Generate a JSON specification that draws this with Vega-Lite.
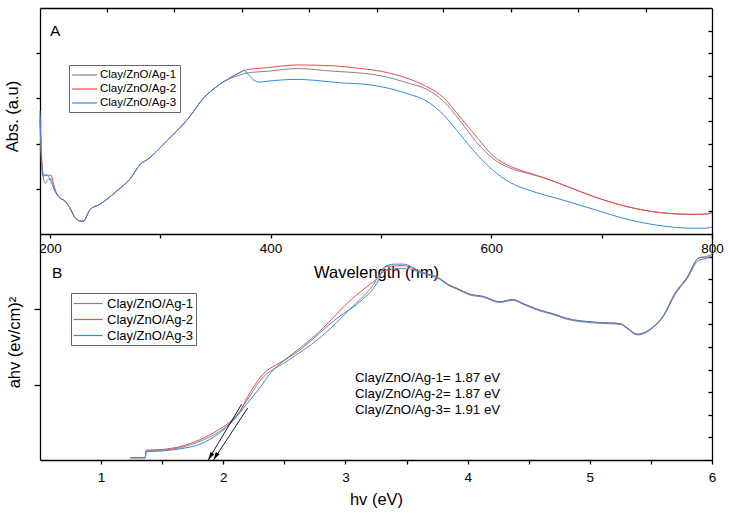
{
  "$schema": "https://vega.github.io/schema/vega-lite/v6.json",
  "padding": {"left": 4, "top": 7, "right": 5, "bottom": 3},
  "spacing": 0,
  "bounds": "flush",
  "config": {
    "font": "Liberation Sans",
    "view": {"stroke": null},
    "axis": {"grid": false, "domainColor": "#000", "domainWidth": 1.3, "tickColor": "#000", "tickWidth": 1.3, "labelColor": "#000", "titleColor": "#000", "labelFontSize": 13.5, "titleFontSize": 16.5, "titleFontWeight": "normal", "labelFont": "Liberation Sans", "titleFont": "Liberation Sans", "labelFlush": false, "labelOverlap": false}
  },
  "resolve": {"scale": {"x": "independent", "y": "independent", "color": "independent"}, "legend": {"color": "independent"}},
  "vconcat": [
    {
      "width": 672,
      "height": 226,
      "resolve": {"axis": {"x": "independent", "y": "independent"}},
      "layer": [
        {
          "data": {"values": [
            {"s":"Ag-1","wl":191,"abs":1.25},{"s":"Ag-1","wl":192.5,"abs":0.75},{"s":"Ag-1","wl":194,"abs":0.62},{"s":"Ag-1","wl":196,"abs":0.56},{"s":"Ag-1","wl":198,"abs":0.60},{"s":"Ag-1","wl":201,"abs":0.61},{"s":"Ag-1","wl":203,"abs":0.52},{"s":"Ag-1","wl":206,"abs":0.44},
            {"s":"Ag-1","wl":209,"abs":0.40},{"s":"Ag-1","wl":213.6,"abs":0.365},{"s":"Ag-1","wl":218,"abs":0.29},{"s":"Ag-1","wl":222.7,"abs":0.18},{"s":"Ag-1","wl":227,"abs":0.145},{"s":"Ag-1","wl":230,"abs":0.14},{"s":"Ag-1","wl":236.4,"abs":0.27},{"s":"Ag-1","wl":245.5,"abs":0.33},{"s":"Ag-1","wl":261,"abs":0.48},{"s":"Ag-1","wl":272.7,"abs":0.61},{"s":"Ag-1","wl":281.8,"abs":0.77},{"s":"Ag-1","wl":289,"abs":0.83},{"s":"Ag-1","wl":306,"abs":1.03},{"s":"Ag-1","wl":325.5,"abs":1.28},{"s":"Ag-1","wl":339,"abs":1.50},{"s":"Ag-1","wl":354.5,"abs":1.66},{"s":"Ag-1","wl":365,"abs":1.73},
            {"s":"Ag-1","wl":372.7,"abs":1.76},{"s":"Ag-1","wl":378,"abs":1.78},{"s":"Ag-1","wl":397,"abs":1.80},{"s":"Ag-1","wl":424.5,"abs":1.83},{"s":"Ag-1","wl":457,"abs":1.80},{"s":"Ag-1","wl":482,"abs":1.78},{"s":"Ag-1","wl":500,"abs":1.75},{"s":"Ag-1","wl":524.5,"abs":1.67},{"s":"Ag-1","wl":541.5,"abs":1.60},{"s":"Ag-1","wl":556.6,"abs":1.47},{"s":"Ag-1","wl":571.8,"abs":1.25},{"s":"Ag-1","wl":587,"abs":1.01},{"s":"Ag-1","wl":602,"abs":0.83},{"s":"Ag-1","wl":617,"abs":0.73},{"s":"Ag-1","wl":633,"abs":0.67},{"s":"Ag-1","wl":648,"abs":0.62},{"s":"Ag-1","wl":663.6,"abs":0.55},{"s":"Ag-1","wl":693.6,"abs":0.41},{"s":"Ag-1","wl":724,"abs":0.30},{"s":"Ag-1","wl":754.5,"abs":0.235},{"s":"Ag-1","wl":784.5,"abs":0.215},{"s":"Ag-1","wl":800,"abs":0.23},

            {"s":"Ag-2","wl":191,"abs":1.30},{"s":"Ag-2","wl":192.5,"abs":0.85},{"s":"Ag-2","wl":194,"abs":0.66},{"s":"Ag-2","wl":197,"abs":0.65},{"s":"Ag-2","wl":201,"abs":0.65},{"s":"Ag-2","wl":203,"abs":0.57},{"s":"Ag-2","wl":206,"abs":0.45},
            {"s":"Ag-2","wl":209,"abs":0.40},{"s":"Ag-2","wl":213.6,"abs":0.365},{"s":"Ag-2","wl":218,"abs":0.29},{"s":"Ag-2","wl":222.7,"abs":0.18},{"s":"Ag-2","wl":227,"abs":0.145},{"s":"Ag-2","wl":230,"abs":0.14},{"s":"Ag-2","wl":236.4,"abs":0.27},{"s":"Ag-2","wl":245.5,"abs":0.33},{"s":"Ag-2","wl":261,"abs":0.48},{"s":"Ag-2","wl":272.7,"abs":0.61},{"s":"Ag-2","wl":281.8,"abs":0.77},{"s":"Ag-2","wl":289,"abs":0.83},{"s":"Ag-2","wl":306,"abs":1.03},{"s":"Ag-2","wl":325.5,"abs":1.28},{"s":"Ag-2","wl":339,"abs":1.50},{"s":"Ag-2","wl":354.5,"abs":1.66},{"s":"Ag-2","wl":365,"abs":1.74},
            {"s":"Ag-2","wl":372.7,"abs":1.79},{"s":"Ag-2","wl":376,"abs":1.81},{"s":"Ag-2","wl":380,"abs":1.82},{"s":"Ag-2","wl":397,"abs":1.84},{"s":"Ag-2","wl":424.5,"abs":1.87},{"s":"Ag-2","wl":457,"abs":1.86},{"s":"Ag-2","wl":482,"abs":1.83},{"s":"Ag-2","wl":500,"abs":1.80},{"s":"Ag-2","wl":524.5,"abs":1.72},{"s":"Ag-2","wl":541.5,"abs":1.63},{"s":"Ag-2","wl":556.6,"abs":1.51},{"s":"Ag-2","wl":571.8,"abs":1.29},{"s":"Ag-2","wl":587,"abs":1.07},{"s":"Ag-2","wl":602,"abs":0.86},{"s":"Ag-2","wl":617,"abs":0.75},{"s":"Ag-2","wl":633,"abs":0.68},{"s":"Ag-2","wl":648,"abs":0.62},{"s":"Ag-2","wl":663.6,"abs":0.55},{"s":"Ag-2","wl":693.6,"abs":0.41},{"s":"Ag-2","wl":724,"abs":0.30},{"s":"Ag-2","wl":754.5,"abs":0.235},{"s":"Ag-2","wl":784.5,"abs":0.218},{"s":"Ag-2","wl":795,"abs":0.22},{"s":"Ag-2","wl":800,"abs":0.24},

            {"s":"Ag-3","wl":191,"abs":1.36},{"s":"Ag-3","wl":192.5,"abs":0.80},{"s":"Ag-3","wl":194,"abs":0.64},{"s":"Ag-3","wl":197,"abs":0.65},{"s":"Ag-3","wl":199,"abs":0.63},{"s":"Ag-3","wl":202,"abs":0.55},{"s":"Ag-3","wl":206,"abs":0.45},
            {"s":"Ag-3","wl":209,"abs":0.40},{"s":"Ag-3","wl":213.6,"abs":0.365},{"s":"Ag-3","wl":218,"abs":0.29},{"s":"Ag-3","wl":222.7,"abs":0.18},{"s":"Ag-3","wl":227,"abs":0.145},{"s":"Ag-3","wl":230,"abs":0.14},{"s":"Ag-3","wl":236.4,"abs":0.27},{"s":"Ag-3","wl":245.5,"abs":0.33},{"s":"Ag-3","wl":261,"abs":0.48},{"s":"Ag-3","wl":272.7,"abs":0.61},{"s":"Ag-3","wl":281.8,"abs":0.77},{"s":"Ag-3","wl":289,"abs":0.83},{"s":"Ag-3","wl":306,"abs":1.03},{"s":"Ag-3","wl":325.5,"abs":1.28},{"s":"Ag-3","wl":339,"abs":1.50},{"s":"Ag-3","wl":354.5,"abs":1.66},{"s":"Ag-3","wl":365,"abs":1.74},
            {"s":"Ag-3","wl":372.7,"abs":1.79},{"s":"Ag-3","wl":375.5,"abs":1.81},{"s":"Ag-3","wl":380,"abs":1.76},{"s":"Ag-3","wl":385,"abs":1.70},{"s":"Ag-3","wl":390,"abs":1.68},{"s":"Ag-3","wl":397,"abs":1.69},{"s":"Ag-3","wl":424.5,"abs":1.71},{"s":"Ag-3","wl":440,"abs":1.70},{"s":"Ag-3","wl":466,"abs":1.67},{"s":"Ag-3","wl":482,"abs":1.66},{"s":"Ag-3","wl":500,"abs":1.63},{"s":"Ag-3","wl":524.5,"abs":1.55},{"s":"Ag-3","wl":541.5,"abs":1.47},{"s":"Ag-3","wl":556.6,"abs":1.32},{"s":"Ag-3","wl":571.8,"abs":1.10},{"s":"Ag-3","wl":587,"abs":0.88},{"s":"Ag-3","wl":602,"abs":0.70},{"s":"Ag-3","wl":617,"abs":0.57},{"s":"Ag-3","wl":633,"abs":0.49},{"s":"Ag-3","wl":663.6,"abs":0.38},{"s":"Ag-3","wl":693.6,"abs":0.27},{"s":"Ag-3","wl":724,"abs":0.16},{"s":"Ag-3","wl":754.5,"abs":0.09},{"s":"Ag-3","wl":784.5,"abs":0.063},{"s":"Ag-3","wl":795,"abs":0.065},{"s":"Ag-3","wl":800,"abs":0.077}
          ]},
          "mark": {"type": "line", "strokeWidth": 1, "interpolate": "monotone"},
          "encoding": {
            "x": {"field": "wl", "type": "quantitative", "scale": {"domain": [191, 800], "nice": false, "zero": false},
                  "axis": {"orient": "bottom", "values": [200, 300, 400, 500, 600, 700, 800], "labelExpr": "datum.value % 200 == 0 ? datum.label : ''", "tickSize": 4, "labelPadding": 3, "title": "Wavelength (nm)", "titlePadding": 10}},
            "y": {"field": "abs", "type": "quantitative", "scale": {"domain": [0, 2.5], "nice": false, "zero": false},
                  "axis": {"orient": "left", "values": [0.5, 1, 1.5, 2], "labels": false, "tickSize": 4, "title": "Abs. (a.u)", "titlePadding": 15, "titleY": 108}},
            "color": {"field": "s", "type": "nominal",
                      "scale": {"domain": ["Ag-1", "Ag-2", "Ag-3"], "range": ["#858585", "#f04a4a", "#2f8ae6"]},
                      "legend": {"orient": "none", "legendX": 29, "legendY": 57, "title": null, "strokeColor": "#666", "padding": 3, "symbolType": "M-2,0H2", "symbolSize": 156.25, "symbolOffset": 5.7, "symbolStrokeWidth": 1.2, "labelFontSize": 11.5, "labelOffset": 8.3, "rowPadding": 1, "labelColor": "#000", "labelExpr": "'Clay/ZnO/' + datum.label"}}
          }
        },
        {
          "data": {"values": [{}]},
          "mark": {"type": "text", "text": "A", "fontSize": 15.5, "align": "left", "baseline": "middle", "color": "#000"},
          "encoding": {
            "x": {"datum": 200, "type": "quantitative", "scale": {"domain": [191, 800], "nice": false, "zero": false},
                  "axis": {"orient": "top", "values": [251.7, 312.4, 374.1, 434.8, 496.4, 556.2, 617.9, 678.6, 740.2], "labels": false, "tickSize": -4, "title": null}},
            "y": {"datum": 2.245, "type": "quantitative", "scale": {"domain": [0, 2.5], "nice": false, "zero": false},
                  "axis": {"orient": "right", "values": [0.25, 0.5, 0.75, 1, 1.25, 1.5, 1.75, 2, 2.25], "labels": false, "tickSize": -4, "title": null}}
          }
        }
      ]
    },
    {
      "width": 672,
      "height": 226,
      "resolve": {"axis": {"x": "independent", "y": "independent"}},
      "layer": [
        {
          "data": {"values": [
            {"s":"Ag-1","hv":1.24,"v":0.03},{"s":"Ag-1","hv":1.36,"v":0.03},{"s":"Ag-1","hv":1.37,"v":0.12},{"s":"Ag-1","hv":1.5,"v":0.13},{"s":"Ag-1","hv":1.65,"v":0.165},{"s":"Ag-1","hv":1.81,"v":0.25},{"s":"Ag-1","hv":1.97,"v":0.38},{"s":"Ag-1","hv":2.08,"v":0.53},{"s":"Ag-1","hv":2.19,"v":0.78},{"s":"Ag-1","hv":2.30,"v":1.05},{"s":"Ag-1","hv":2.52,"v":1.31},{"s":"Ag-1","hv":2.79,"v":1.62},{"s":"Ag-1","hv":3.06,"v":2.04},{"s":"Ag-1","hv":3.23,"v":2.33},{"s":"Ag-1","hv":3.28,"v":2.46},{"s":"Ag-1","hv":3.40,"v":2.54},{"s":"Ag-1","hv":3.50,"v":2.54},
            {"s":"Ag-1","hv":3.63,"v":2.48},{"s":"Ag-1","hv":3.77,"v":2.40},{"s":"Ag-1","hv":3.84,"v":2.32},{"s":"Ag-1","hv":3.91,"v":2.27},{"s":"Ag-1","hv":4.02,"v":2.19},{"s":"Ag-1","hv":4.13,"v":2.16},{"s":"Ag-1","hv":4.26,"v":2.09},{"s":"Ag-1","hv":4.37,"v":2.12},{"s":"Ag-1","hv":4.45,"v":2.07},{"s":"Ag-1","hv":4.57,"v":1.99},{"s":"Ag-1","hv":4.70,"v":1.93},{"s":"Ag-1","hv":4.81,"v":1.87},{"s":"Ag-1","hv":5.03,"v":1.82},{"s":"Ag-1","hv":5.25,"v":1.80},{"s":"Ag-1","hv":5.30,"v":1.75},{"s":"Ag-1","hv":5.39,"v":1.66},{"s":"Ag-1","hv":5.52,"v":1.76},{"s":"Ag-1","hv":5.60,"v":1.90},{"s":"Ag-1","hv":5.70,"v":2.20},{"s":"Ag-1","hv":5.79,"v":2.39},{"s":"Ag-1","hv":5.90,"v":2.66},{"s":"Ag-1","hv":5.95,"v":2.67},{"s":"Ag-1","hv":6.0,"v":2.71},

            {"s":"Ag-2","hv":1.24,"v":0.03},{"s":"Ag-2","hv":1.36,"v":0.03},{"s":"Ag-2","hv":1.37,"v":0.13},{"s":"Ag-2","hv":1.5,"v":0.14},{"s":"Ag-2","hv":1.65,"v":0.18},{"s":"Ag-2","hv":1.81,"v":0.27},{"s":"Ag-2","hv":1.97,"v":0.41},{"s":"Ag-2","hv":2.08,"v":0.54},{"s":"Ag-2","hv":2.14,"v":0.65},{"s":"Ag-2","hv":2.19,"v":0.81},{"s":"Ag-2","hv":2.30,"v":1.09},{"s":"Ag-2","hv":2.52,"v":1.35},{"s":"Ag-2","hv":2.79,"v":1.71},{"s":"Ag-2","hv":3.06,"v":2.15},{"s":"Ag-2","hv":3.20,"v":2.33},{"s":"Ag-2","hv":3.26,"v":2.41},{"s":"Ag-2","hv":3.34,"v":2.57},{"s":"Ag-2","hv":3.47,"v":2.58},
            {"s":"Ag-2","hv":3.63,"v":2.49},{"s":"Ag-2","hv":3.77,"v":2.41},{"s":"Ag-2","hv":3.84,"v":2.33},{"s":"Ag-2","hv":3.91,"v":2.28},{"s":"Ag-2","hv":4.02,"v":2.20},{"s":"Ag-2","hv":4.13,"v":2.17},{"s":"Ag-2","hv":4.26,"v":2.10},{"s":"Ag-2","hv":4.37,"v":2.13},{"s":"Ag-2","hv":4.45,"v":2.08},{"s":"Ag-2","hv":4.57,"v":2.00},{"s":"Ag-2","hv":4.70,"v":1.94},{"s":"Ag-2","hv":4.81,"v":1.88},{"s":"Ag-2","hv":5.03,"v":1.83},{"s":"Ag-2","hv":5.25,"v":1.81},{"s":"Ag-2","hv":5.30,"v":1.76},{"s":"Ag-2","hv":5.39,"v":1.67},{"s":"Ag-2","hv":5.52,"v":1.77},{"s":"Ag-2","hv":5.60,"v":1.91},{"s":"Ag-2","hv":5.70,"v":2.22},{"s":"Ag-2","hv":5.79,"v":2.41},{"s":"Ag-2","hv":5.90,"v":2.69},{"s":"Ag-2","hv":5.95,"v":2.70},{"s":"Ag-2","hv":6.0,"v":2.73},

            {"s":"Ag-3","hv":1.24,"v":0.03},{"s":"Ag-3","hv":1.36,"v":0.03},{"s":"Ag-3","hv":1.37,"v":0.11},{"s":"Ag-3","hv":1.5,"v":0.12},{"s":"Ag-3","hv":1.65,"v":0.15},{"s":"Ag-3","hv":1.81,"v":0.21},{"s":"Ag-3","hv":1.97,"v":0.36},{"s":"Ag-3","hv":2.08,"v":0.52},{"s":"Ag-3","hv":2.19,"v":0.74},{"s":"Ag-3","hv":2.30,"v":0.96},{"s":"Ag-3","hv":2.38,"v":1.14},{"s":"Ag-3","hv":2.65,"v":1.49},{"s":"Ag-3","hv":2.93,"v":1.88},{"s":"Ag-3","hv":3.14,"v":2.13},{"s":"Ag-3","hv":3.23,"v":2.28},{"s":"Ag-3","hv":3.28,"v":2.42},{"s":"Ag-3","hv":3.31,"v":2.55},{"s":"Ag-3","hv":3.40,"v":2.60},{"s":"Ag-3","hv":3.47,"v":2.60},
            {"s":"Ag-3","hv":3.63,"v":2.49},{"s":"Ag-3","hv":3.77,"v":2.41},{"s":"Ag-3","hv":3.84,"v":2.33},{"s":"Ag-3","hv":3.91,"v":2.28},{"s":"Ag-3","hv":4.02,"v":2.20},{"s":"Ag-3","hv":4.13,"v":2.17},{"s":"Ag-3","hv":4.26,"v":2.10},{"s":"Ag-3","hv":4.37,"v":2.13},{"s":"Ag-3","hv":4.45,"v":2.08},{"s":"Ag-3","hv":4.57,"v":2.00},{"s":"Ag-3","hv":4.70,"v":1.94},{"s":"Ag-3","hv":4.81,"v":1.88},{"s":"Ag-3","hv":5.03,"v":1.83},{"s":"Ag-3","hv":5.25,"v":1.81},{"s":"Ag-3","hv":5.30,"v":1.76},{"s":"Ag-3","hv":5.39,"v":1.67},{"s":"Ag-3","hv":5.52,"v":1.77},{"s":"Ag-3","hv":5.60,"v":1.91},{"s":"Ag-3","hv":5.70,"v":2.22},{"s":"Ag-3","hv":5.79,"v":2.41},{"s":"Ag-3","hv":5.90,"v":2.69},{"s":"Ag-3","hv":5.95,"v":2.68},{"s":"Ag-3","hv":6.0,"v":2.74}
          ]},
          "mark": {"type": "line", "strokeWidth": 1, "interpolate": "monotone"},
          "encoding": {
            "x": {"field": "hv", "type": "quantitative", "scale": {"domain": [0.5, 6], "nice": false, "zero": false},
                  "axis": {"orient": "bottom", "values": [1, 1.5, 2, 2.5, 3, 3.5, 4, 4.5, 5, 5.5, 6], "labelExpr": "datum.value % 1 == 0 ? format(datum.value, 'd') : ''", "tickSize": 4, "labelPadding": 6, "title": "hv (eV)", "titlePadding": 8}},
            "y": {"field": "v", "type": "quantitative", "scale": {"domain": [0, 3], "nice": false, "zero": false},
                  "axis": {"orient": "left", "values": [1, 2], "labels": false, "tickSize": 6, "title": "ahv (ev/cm)²", "titlePadding": 11, "titleY": 108}},
            "color": {"field": "s", "type": "nominal",
                      "scale": {"domain": ["Ag-1", "Ag-2", "Ag-3"], "range": ["#858585", "#f04a4a", "#2f8ae6"]},
                      "legend": {"orient": "none", "legendX": 31, "legendY": 59, "title": null, "strokeColor": "#666", "padding": 2.5, "symbolType": "M-2,0H2", "symbolSize": 210.25, "symbolOffset": 6.7, "symbolStrokeWidth": 1.2, "labelFontSize": 13, "labelOffset": 10.8, "rowPadding": 1, "labelColor": "#000", "labelExpr": "'Clay/ZnO/' + datum.label"}}
          }
        },
        {
          "data": {"values": [
            {"id": 1, "hv": 2.15, "v": 0.74}, {"id": 1, "hv": 1.877, "v": 0.0},
            {"id": 2, "hv": 2.20, "v": 0.69}, {"id": 2, "hv": 1.92, "v": 0.0}
          ]},
          "mark": {"type": "line", "color": "#000", "strokeWidth": 0.9},
          "encoding": {
            "x": {"field": "hv", "type": "quantitative", "axis": null},
            "y": {"field": "v", "type": "quantitative",
                  "axis": {"orient": "right", "values": [0.3, 0.6, 0.9, 1.2, 1.5, 1.8, 2.1, 2.4, 2.7], "labels": false, "tickSize": -4, "title": null}},
            "detail": {"field": "id", "type": "nominal"}
          }
        },
        {
          "data": {"values": [{"hv": 1.894, "v": 0.046}, {"hv": 1.937, "v": 0.046}]},
          "mark": {"type": "point", "shape": "M0,1L-0.55,-1L0.55,-1Z", "size": 64, "angle": 32, "filled": true, "color": "#000", "opacity": 1},
          "encoding": {
            "x": {"field": "hv", "type": "quantitative", "axis": null},
            "y": {"field": "v", "type": "quantitative", "axis": null}
          }
        },
        {
          "data": {"values": [{}]},
          "mark": {"type": "text", "text": ["Clay/ZnO/Ag-1= 1.87 eV", "Clay/ZnO/Ag-2= 1.87 eV", "Clay/ZnO/Ag-3= 1.91 eV"], "fontSize": 13.3, "lineHeight": 16, "align": "left", "baseline": "middle", "color": "#000"},
          "encoding": {
            "x": {"datum": 3.078, "type": "quantitative", "axis": null},
            "y": {"datum": 1.086, "type": "quantitative", "axis": null}
          }
        },
        {
          "data": {"values": [{}]},
          "mark": {"type": "text", "text": "B", "fontSize": 15.5, "align": "left", "baseline": "middle", "color": "#000"},
          "encoding": {
            "x": {"datum": 0.598, "type": "quantitative", "axis": null},
            "y": {"datum": 2.48, "type": "quantitative", "axis": null}
          }
        }
      ]
    }
  ]
}
